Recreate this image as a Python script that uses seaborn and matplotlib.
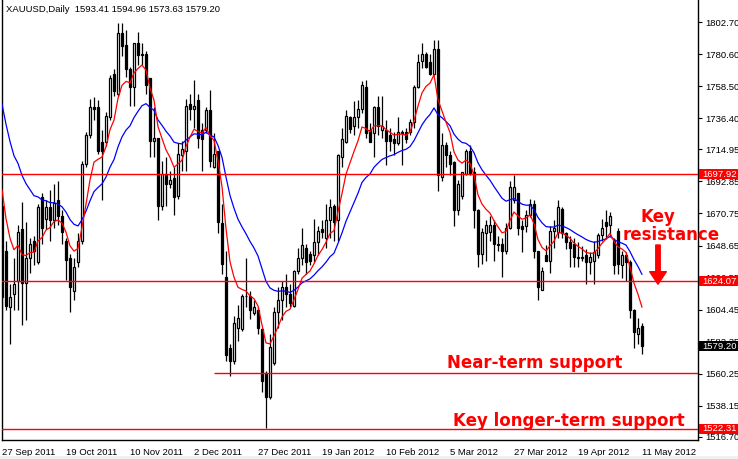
import numpy as np
import pandas as pd
import matplotlib
matplotlib.use("Agg")
import matplotlib.pyplot as plt
import matplotlib.transforms as mtransforms
from matplotlib.patches import Rectangle
import seaborn as sns

# daily XAUUSD bars, 27 Sep 2011 .. 11 May 2012
open_ = [1676, 1645, 1606, 1615, 1624, 1660, 1623, 1640, 1652, 1637,
         1682, 1667, 1675, 1666, 1680, 1669, 1652, 1640, 1617, 1637,
         1652, 1705, 1725, 1744, 1744, 1720, 1720, 1737, 1767, 1753,
         1795, 1787, 1770, 1758, 1788, 1781, 1781, 1764, 1721, 1723,
         1676, 1698, 1691, 1695, 1683, 1711, 1714, 1746, 1743, 1749,
         1728, 1728, 1742, 1703, 1714, 1664, 1627, 1578, 1569, 1592,
         1591, 1614, 1614, 1602, 1604, 1591, 1560, 1544, 1568, 1603,
         1611, 1620, 1615, 1607, 1631, 1640, 1647, 1643, 1642, 1651,
         1660, 1654, 1666, 1676, 1666, 1710, 1720, 1737, 1731, 1737,
         1743, 1758, 1728, 1726, 1744, 1728, 1728, 1725, 1722, 1719,
         1727, 1727, 1727, 1734, 1758, 1776, 1781, 1775, 1767, 1784,
         1696, 1718, 1711, 1706, 1673, 1683, 1698, 1714, 1699, 1673,
         1643, 1657, 1658, 1663, 1650, 1650, 1645, 1661, 1680, 1685,
         1662, 1662, 1670, 1677, 1645, 1618, 1642, 1638, 1659, 1658,
         1674, 1657, 1651, 1650, 1640, 1640, 1642, 1637, 1638, 1642,
         1656, 1665, 1663, 1652, 1659, 1635, 1642, 1637, 1604, 1588,
         1593.41]
high = [1678, 1652, 1622, 1640, 1663, 1679, 1665, 1654, 1655, 1677,
        1685, 1680, 1687, 1691, 1693, 1673, 1654, 1643, 1640, 1657,
        1707, 1727, 1750, 1751, 1749, 1728, 1741, 1766, 1770, 1802,
        1802, 1797, 1772, 1788, 1796, 1788, 1783, 1764, 1744, 1723,
        1707, 1710, 1700, 1703, 1719, 1721, 1750, 1753, 1763, 1753,
        1733, 1744, 1756, 1726, 1714, 1677, 1645, 1581, 1600, 1608,
        1615, 1640, 1617, 1611, 1606, 1592, 1562, 1588, 1606, 1620,
        1624, 1629, 1622, 1632, 1647, 1661, 1650, 1645, 1667, 1662,
        1666, 1677, 1681, 1677, 1712, 1730, 1742, 1738, 1748, 1749,
        1762, 1763, 1733, 1745, 1752, 1752, 1735, 1730, 1727, 1737,
        1728, 1730, 1736, 1759, 1781, 1788, 1782, 1781, 1790, 1790,
        1726, 1720, 1714, 1707, 1694, 1699, 1715, 1718, 1703, 1674,
        1661, 1666, 1669, 1666, 1655, 1654, 1664, 1693, 1697, 1685,
        1666, 1673, 1681, 1680, 1645, 1634, 1649, 1662, 1666, 1680,
        1675, 1658, 1655, 1654, 1651, 1648, 1646, 1644, 1652, 1657,
        1667, 1673, 1672, 1654, 1661, 1645, 1644, 1639, 1605, 1599,
        1594.96]
low = [1598, 1604, 1581, 1604, 1604, 1594, 1597, 1630, 1635, 1636,
       1650, 1660, 1652, 1661, 1663, 1650, 1625, 1603, 1611, 1634,
       1650, 1703, 1723, 1735, 1712, 1680, 1717, 1735, 1752, 1752,
       1779, 1765, 1745, 1745, 1773, 1773, 1753, 1710, 1710, 1666,
       1673, 1676, 1688, 1670, 1681, 1700, 1700, 1735, 1730, 1716,
       1700, 1726, 1703, 1702, 1657, 1629, 1569, 1559, 1567, 1583,
       1590, 1606, 1598, 1601, 1588, 1548, 1523, 1543, 1566, 1592,
       1597, 1606, 1606, 1606, 1629, 1635, 1629, 1635, 1637, 1642,
       1654, 1647, 1654, 1652, 1652, 1703, 1719, 1726, 1725, 1730,
       1740, 1723, 1720, 1710, 1725, 1723, 1704, 1714, 1711, 1718,
       1704, 1719, 1725, 1730, 1757, 1771, 1771, 1766, 1766, 1686,
       1693, 1703, 1697, 1662, 1670, 1681, 1697, 1697, 1661, 1634,
       1636, 1638, 1652, 1638, 1645, 1627, 1643, 1660, 1678, 1656,
       1644, 1658, 1668, 1640, 1611, 1618, 1638, 1630, 1647, 1654,
       1654, 1646, 1634, 1634, 1634, 1638, 1622, 1629, 1622, 1640,
       1652, 1653, 1655, 1629, 1629, 1626, 1624, 1599, 1578, 1581,
       1573.63]
close = [1613, 1607, 1613, 1622, 1658, 1623, 1640, 1650, 1645, 1675,
         1661, 1675, 1666, 1678, 1669, 1658, 1639, 1620, 1634, 1652,
         1705, 1725, 1744, 1743, 1714, 1714, 1738, 1764, 1755, 1795,
         1786, 1770, 1758, 1788, 1780, 1780, 1759, 1721, 1723, 1676,
         1698, 1691, 1694, 1682, 1712, 1715, 1745, 1743, 1745, 1723,
         1722, 1742, 1707, 1712, 1665, 1636, 1573, 1569, 1595, 1599,
         1614, 1614, 1604, 1606, 1592, 1555, 1544, 1579, 1603, 1611,
         1620, 1615, 1609, 1631, 1640, 1649, 1637, 1638, 1651, 1659,
         1658, 1666, 1675, 1665, 1711, 1722, 1738, 1729, 1737, 1743,
         1759, 1726, 1720, 1744, 1731, 1731, 1721, 1721, 1719, 1727,
         1726, 1722, 1734, 1758, 1775, 1781, 1772, 1767, 1784, 1697,
         1718, 1711, 1705, 1673, 1691, 1699, 1714, 1698, 1673, 1643,
         1658, 1663, 1663, 1650, 1649, 1645, 1661, 1689, 1689, 1661,
         1660, 1670, 1677, 1645, 1620, 1631, 1638, 1659, 1661, 1675,
         1657, 1651, 1647, 1641, 1641, 1641, 1637, 1641, 1644, 1656,
         1661, 1662, 1669, 1635, 1636, 1642, 1637, 1604, 1589, 1592,
         1579.20]

date_labels = ['27 Sep 2011', '19 Oct 2011', '10 Nov 2011', '2 Dec 2011',
               '27 Dec 2011', '19 Jan 2012', '10 Feb 2012', '5 Mar 2012',
               '27 Mar 2012', '19 Apr 2012', '11 May 2012']
price_ticks = [1802.70, 1780.60, 1758.50, 1736.40, 1714.95, 1692.85, 1670.75,
               1648.65, 1626.55, 1604.45, 1582.35, 1560.25, 1538.15, 1516.70]

key_resistance = 1697.92
mid_level = 1624.07
near_support = 1561.0
long_support = 1522.31

# moving averages (values before the first bar taken from the chart's left edge)
fast_span, fast_seed = 7, 1712
slow_span, slow_seed = 19, 1761

df = pd.DataFrame({'open': open_, 'high': high, 'low': low, 'close': close})
df['bar'] = np.arange(len(df))


def ema(values, span, seed):
    s = pd.Series([seed] + list(values))
    return s.ewm(span=span, adjust=False).mean().iloc[1:].to_numpy()


df['ma_fast'] = ema(df['close'], fast_span, fast_seed)
df['ma_slow'] = ema(df['close'], slow_span, slow_seed)

sns.set_style('white')
plt.rcParams['font.family'] = ['Liberation Sans', 'DejaVu Sans']

W, H = 738, 459
fig = plt.figure(figsize=(W / 100, H / 100), dpi=100)
ax = fig.add_axes([1.5 / W, 19 / H, 696.5 / W, 440 / H])
ymin, ymax = 1514.6, 1817.9
ax.set_xlim(-0.125, 174)
ax.set_ylim(ymin, ymax)

# candles
up = df['close'] >= df['open']
ax.vlines(df['bar'], df['low'], df['high'], color='black', lw=0.9, zorder=2)
body = (df['close'] - df['open']).abs()
bottom = df[['open', 'close']].min(axis=1)
ax.bar(df['bar'][up], body[up], bottom=bottom[up], width=0.55,
       facecolor='white', edgecolor='black', lw=0.9, zorder=3)
ax.bar(df['bar'][~up], body[~up], bottom=bottom[~up], width=0.55,
       facecolor='black', edgecolor='black', lw=0.9, zorder=3)

sns.lineplot(data=df, x='bar', y='ma_slow', color='#0000ff', lw=0.9, ax=ax, zorder=4)
sns.lineplot(data=df, x='bar', y='ma_fast', color='#ff0000', lw=0.9, ax=ax, zorder=4)

# levels
for lvl in (key_resistance, mid_level, long_support):
    ax.axhline(lvl, color='#ff0000', lw=1, zorder=5)
ax.hlines(near_support, 53, 174, color='#ff0000', lw=1, zorder=5)

# axes look (MT4 style)
ax.set_xlabel('')
ax.set_ylabel('')
ax.spines['top'].set_visible(False)
for s in ('left', 'right', 'bottom'):
    ax.spines[s].set_color('black')
    ax.spines[s].set_linewidth(1)
ax.yaxis.tick_right()
ax.set_yticks(price_ticks)
ax.set_yticklabels([f'{p:.2f}' for p in price_ticks])
ax.set_xticks(range(0, len(df), 16))
ax.set_xticklabels(date_labels, ha='left')
ax.tick_params(axis='y', length=3, pad=2, labelsize=6.8, width=0.8, colors='black')
ax.tick_params(axis='x', length=5, pad=1, labelsize=6.8, width=0.8, colors='black')
for lab in ax.get_xticklabels():
    lab.set_horizontalalignment('left')

# price boxes at right
blend = mtransforms.blended_transform_factory(ax.transAxes, ax.transData)
px_y = (ymax - ymin) / 440
px_x = 1 / 696.5
for val, fc in ((key_resistance, '#ff0000'), (mid_level, '#ff0000'),
                (close[-1], 'black'), (long_support, '#ff0000')):
    ax.add_patch(Rectangle((1 + 1 * px_x, val - 5 * px_y), 40 * px_x, 10 * px_y,
                           transform=blend, facecolor=fc, edgecolor='none',
                           clip_on=False, zorder=6))
    ax.text(1 + 4 * px_x, val, f'{val:.2f}', transform=blend, color='white',
            fontsize=6.8, va='center', ha='left', zorder=7, clip_on=False)

ax.text(4 * px_x, 1 - 9 / 440, 'XAUUSD,Daily  1593.41 1594.96 1573.63 1579.20',
        transform=ax.transAxes, fontsize=6.8, va='center', ha='left', color='black')

# annotations
def bar_at(xpx):
    return (xpx - 2) / 4

ann = dict(color='#ff0000', fontsize=12, fontweight='bold', family='DejaVu Sans',
           va='baseline', ha='left', zorder=8, clip_on=False)
ax.text(bar_at(641), 1665.0, 'Key', **ann)
ax.text(bar_at(623), 1652.5, 'resistance', **ann)
ax.text(bar_at(447), 1564.2, 'Near-term support', **ann)
ax.text(bar_at(453), 1524.5, 'Key longer-term support', **ann)
ax.annotate('', xy=(bar_at(658), 1622.0), xytext=(bar_at(658), 1649.0),
            arrowprops=dict(color='#ff0000', width=3.2, headwidth=12,
                            headlength=9, shrink=0), zorder=8)

fig.patches.append(Rectangle((0, 0), 1, 3 / H, transform=fig.transFigure,
                             facecolor='#f0f0f0', edgecolor='none'))

fig.savefig('out.png', dpi=100)
